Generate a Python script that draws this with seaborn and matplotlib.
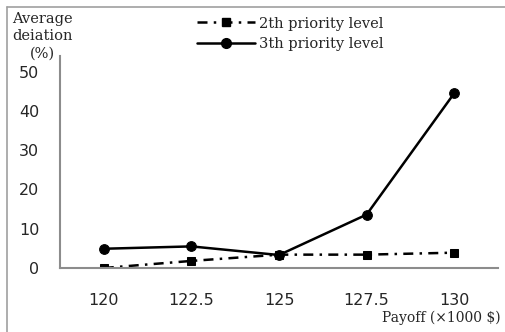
import numpy as np
import pandas as pd
import seaborn as sns
from matplotlib import pyplot as plt
from matplotlib.lines import Line2D

# values
payoff = ['120', '122.5', '125', '127.5', '130']
level2 = [0.0, 1.8, 3.4, 3.4, 3.9]
level3 = [4.9, 5.5, 3.3, 13.6, 44.5]
series_names = ['2th priority level', '3th priority level']

sns.set_style('white')
plt.rcParams['font.family'] = ['DejaVu Sans']

fig = plt.figure(figsize=(5.06, 3.32), dpi=100)
ax = fig.add_axes([0.1186, 0.1928, 0.8656, 0.6386])

axis_grey = '#8c8c8c'
serif = ['DejaVu Serif']
dashdot = (0, (4, 2.5, 1, 2.5))

sns.lineplot(x=payoff, y=level2, ax=ax, sort=False, color='black', lw=1.8,
             linestyle=dashdot, marker='s', markersize=6,
             markeredgecolor='black', label=series_names[0])
sns.lineplot(x=payoff, y=level3, ax=ax, sort=False, color='black', lw=1.8,
             linestyle='-', marker='o', markersize=7,
             markeredgecolor='black', label=series_names[1])

ax.set_xlim(-0.5, 4.5)
ax.set_ylim(0, 54)
ax.set_yticks(range(0, 51, 10))
ax.set_xticks(range(len(payoff)))
ax.set_xticklabels(payoff)
ax.set_xticks(np.arange(-0.5, 5, 1.0), minor=True)
ax.tick_params(axis='x', which='major', length=0, pad=18, labelsize=11.5)
ax.tick_params(axis='x', which='minor', length=4, width=1.5, color=axis_grey, direction='out')
ax.tick_params(axis='y', length=4, width=1.5, color=axis_grey, direction='out', pad=11, labelsize=11.5)
ax.set_xlabel('')
ax.set_ylabel('')

sns.despine(ax=ax)
for side in ['left', 'bottom']:
    ax.spines[side].set_color(axis_grey)
    ax.spines[side].set_linewidth(1.5)

# legend handles drawn like the reference
handles = [
    Line2D([], [], color='black', lw=1.8, linestyle=dashdot, marker='s', markersize=6),
    Line2D([], [], color='black', lw=1.8, marker='o', markersize=7),
]
fig.legend(handles, series_names, loc='upper left', bbox_to_anchor=(0.374, 0.972),
           frameon=False, handlelength=4.0, handletextpad=0.25, labelspacing=0.42,
           borderpad=0, prop={'family': serif, 'size': 10.5})
ax.get_legend().remove()

fig.text(0.084, 0.964, 'Average\ndeiation\n(%)', ha='center', va='top',
         multialignment='center', linespacing=1.3, family=serif, size=10.5)
fig.text(0.99, 0.042, 'Payoff (\u00d71000 $)', ha='right', va='center',
         family=serif, size=10)

# grey frame around the chart
fig.add_artist(Line2D([7 / 506, 1.0], [1 - 7 / 332] * 2, color='#a0a0a0', lw=1.2))
fig.add_artist(Line2D([7 / 506] * 2, [0.0, 1 - 7 / 332], color='#a0a0a0', lw=1.2))

fig.savefig('out.png', dpi=100)
